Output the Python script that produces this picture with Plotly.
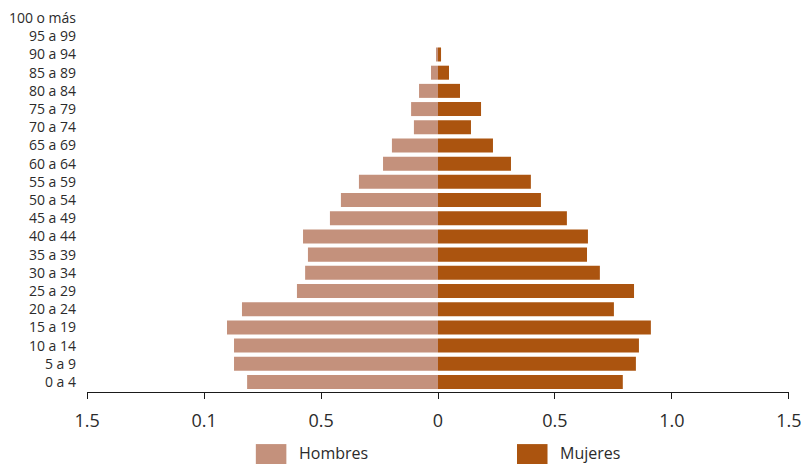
import plotly.graph_objects as go

age_groups = ["0 a 4", "5 a 9", "10 a 14", "15 a 19", "20 a 24", "25 a 29",
              "30 a 34", "35 a 39", "40 a 44", "45 a 49", "50 a 54", "55 a 59",
              "60 a 64", "65 a 69", "70 a 74", "75 a 79", "80 a 84", "85 a 89",
              "90 a 94", "95 a 99", "100 o más"]
hombres = [0.816, 0.872, 0.872, 0.902, 0.838, 0.603, 0.568, 0.556, 0.577, 0.462,
           0.415, 0.338, 0.235, 0.197, 0.103, 0.115, 0.081, 0.030, 0.008, 0.0, 0.0]
mujeres = [0.790, 0.846, 0.859, 0.910, 0.752, 0.838, 0.692, 0.637, 0.641, 0.551,
           0.440, 0.397, 0.312, 0.235, 0.141, 0.184, 0.094, 0.047, 0.013, 0.0, 0.0]
tick_vals = [-1.5, -1.0, -0.5, 0, 0.5, 1.0, 1.5]
tick_text = ["1.5", "0.1", "0.5", "0", "0.5", "1.0", "1.5"]

c_h = "#C4917C"
c_m = "#AB540F"
FONT = "Open Sans"

fig = go.Figure()
fig.add_trace(go.Bar(
    y=age_groups, x=[-v for v in hombres], orientation="h", name="Hombres",
    marker=dict(color=c_h, line=dict(width=0)), customdata=hombres,
    hovertemplate="%{y}: %{customdata}<extra>Hombres</extra>"))
fig.add_trace(go.Bar(
    y=age_groups, x=mujeres, orientation="h", name="Mujeres",
    marker=dict(color=c_m, line=dict(width=0)),
    hovertemplate="%{y}: %{x}<extra>Mujeres</extra>"))

fig.update_layout(
    width=801, height=464,
    margin=dict(l=87, r=12, t=9, b=72, autoexpand=False),
    paper_bgcolor="white", plot_bgcolor="white",
    barmode="relative", bargap=0.23,
    showlegend=False,
    font=dict(family=FONT, color="#2b2b2b"),
)
fig.update_xaxes(
    range=[-1.5005, 1.5005], tickvals=tick_vals, ticktext=tick_text,
    showgrid=False, zeroline=False, showline=True, linecolor="#1a1a1a",
    linewidth=1.3, ticks="outside", ticklen=6, tickwidth=1.3, tickcolor="#1a1a1a",
    tickfont=dict(size=18, family=FONT, color="#2b2b2b"), ticklabelstandoff=6,
    ticklabeloverflow="allow", automargin=False,
)
fig.update_yaxes(
    type="category", categoryorder="array", categoryarray=age_groups,
    range=[-0.55, 20.5], showgrid=False, zeroline=False, showline=False,
    ticks="", tickfont=dict(size=14, family=FONT, color="#2b2b2b"),
    ticklabelstandoff=10, automargin=False,
)

# legend drawn as decoration (squares + labels)
legend_items = [("Hombres", c_h, 0.2405), ("Mujeres", c_m, 0.6125)]
for name, col, x0 in legend_items:
    fig.add_shape(type="rect", xref="paper", yref="paper",
                  x0=x0, x1=x0 + 0.0435, y0=-0.19, y1=-0.136,
                  fillcolor=col, line=dict(width=0))
    fig.add_annotation(xref="paper", yref="paper", x=x0 + 0.058, y=-0.16,
                       text=name, showarrow=False, xanchor="left", yanchor="middle",
                       font=dict(size=16, family=FONT, color="#2b2b2b"))

fig.write_html("out.html", config={"displayModeBar": False},
               post_script="document.body.style.margin='0';")
